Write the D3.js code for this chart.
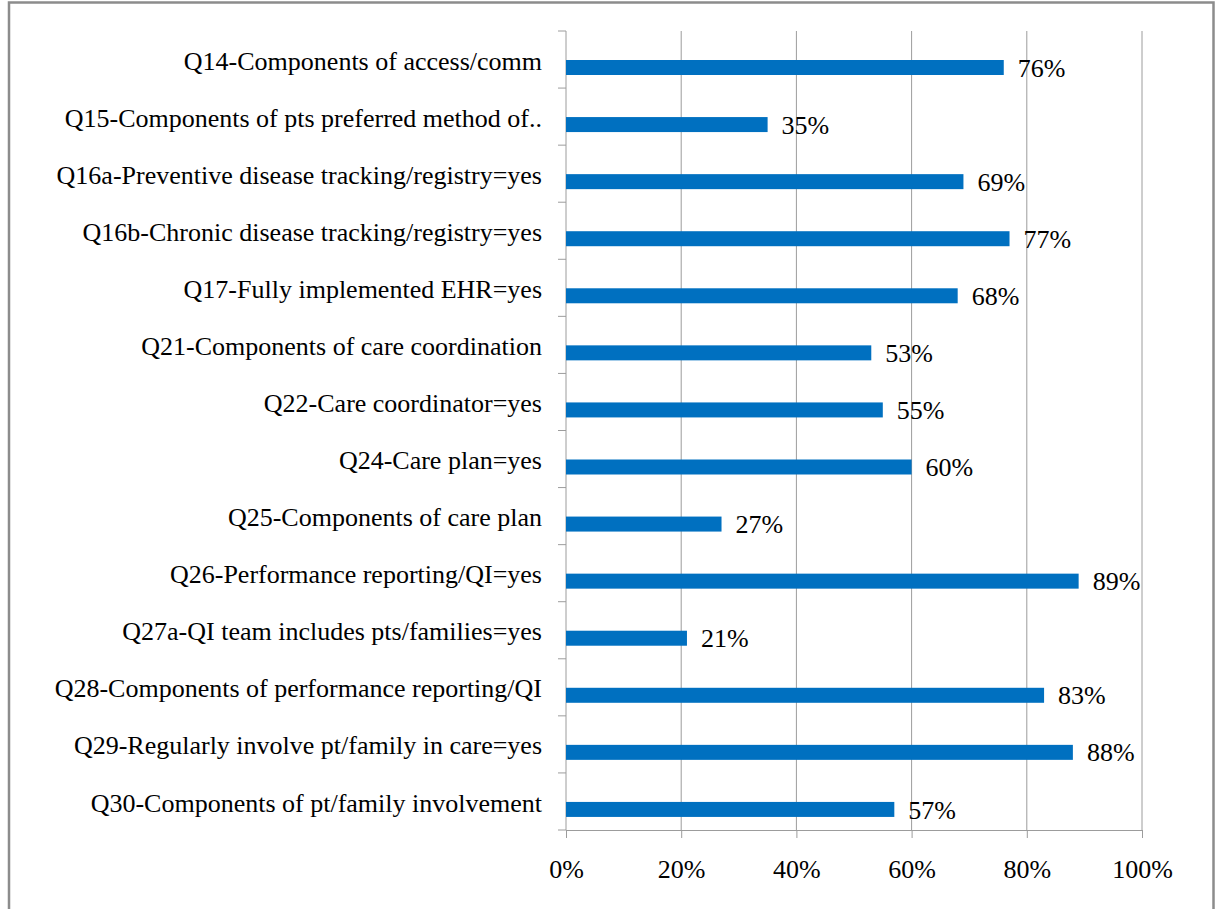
<!DOCTYPE html>
<html>
<head>
<meta charset="utf-8">
<script src="https://cdn.jsdelivr.net/npm/d3@7"></script>
<style>
  body { margin: 0; background: #fff; }
  svg text { font-family: "Times New Roman", "Liberation Serif", Tinos, "DejaVu Serif", serif; fill: #000; }
</style>
</head>
<body>
<svg id="chart" width="1216" height="909"></svg>
<script>
// chart data
var categories = [
  "Q14-Components of access/comm",
  "Q15-Components of pts preferred method of..",
  "Q16a-Preventive disease tracking/registry=yes",
  "Q16b-Chronic disease tracking/registry=yes",
  "Q17-Fully implemented EHR=yes",
  "Q21-Components of care coordination",
  "Q22-Care coordinator=yes",
  "Q24-Care plan=yes",
  "Q25-Components of care plan",
  "Q26-Performance reporting/QI=yes",
  "Q27a-QI team includes pts/families=yes",
  "Q28-Components of performance reporting/QI",
  "Q29-Regularly involve pt/family in care=yes",
  "Q30-Components of pt/family involvement"
];
var values = [0.76, 0.35, 0.69, 0.77, 0.68, 0.53, 0.55, 0.60, 0.27, 0.89, 0.21, 0.83, 0.88, 0.57];
var xTicks = [0, 0.2, 0.4, 0.6, 0.8, 1.0];

(function () {
var svg = d3.select('#chart');
var left = 566, right = 1142, plotTop = 31, plotBottom = 830;
var blue = '#0070C0', grid = '#9c9c9c';

// outer frame
svg.append('rect')
  .attr('x', 9).attr('y', 2.5)
  .attr('width', 1204.5).attr('height', 920)
  .attr('fill', 'none').attr('stroke', '#8c8c8c').attr('stroke-width', 2.5);

var x = d3.scaleLinear().domain([0, 1]).range([left, right]);
var y = d3.scaleBand().domain(categories).range([plotTop, plotBottom]);

// vertical gridlines
svg.append('g').selectAll('line')
  .data(xTicks.slice(1))
  .join('line')
  .attr('x1', d => x(d)).attr('x2', d => x(d))
  .attr('y1', plotTop).attr('y2', plotBottom)
  .attr('stroke', grid).attr('stroke-width', 1);

// bottom axis
var xAxis = d3.axisBottom(x).tickValues(xTicks).tickFormat(d3.format('.0%'))
  .tickSizeInner(8).tickSizeOuter(0).tickPadding(22);
var gx = svg.append('g').attr('transform', 'translate(0,' + plotBottom + ')').call(xAxis);
gx.attr('font-family', null);
gx.select('.domain').attr('stroke', grid);
gx.selectAll('.tick line').attr('stroke', grid);
gx.selectAll('.tick text').attr('font-size', 26);

// left axis (ticks at band edges)
svg.append('line')
  .attr('x1', left).attr('x2', left).attr('y1', plotTop).attr('y2', plotBottom)
  .attr('stroke', grid);
svg.append('g').selectAll('line')
  .data(d3.range(categories.length + 1))
  .join('line')
  .attr('x1', left - 8).attr('x2', left)
  .attr('y1', i => plotTop + i * y.step()).attr('y2', i => plotTop + i * y.step())
  .attr('stroke', grid);

// category labels
svg.append('g').selectAll('text')
  .data(categories)
  .join('text')
  .attr('x', 542)
  .attr('y', d => y(d) + y.bandwidth() / 2 + 1)
  .attr('dy', '0.35em')
  .attr('text-anchor', 'end')
  .attr('font-size', 26)
  .text(d => d);

// bars
var barOff = 29, barH = 15;
svg.append('g').selectAll('rect')
  .data(values)
  .join('rect')
  .attr('x', x(0))
  .attr('y', (d, i) => y(categories[i]) + barOff)
  .attr('width', d => x(d) - x(0))
  .attr('height', barH)
  .attr('fill', blue);

// value labels
svg.append('g').selectAll('text')
  .data(values)
  .join('text')
  .attr('x', d => x(d) + 14)
  .attr('y', (d, i) => y(categories[i]) + barOff + barH / 2)
  .attr('dy', '0.35em')
  .attr('font-size', 26)
  .text(d => Math.round(d * 100) + '%');
})();
</script>
</body>
</html>
